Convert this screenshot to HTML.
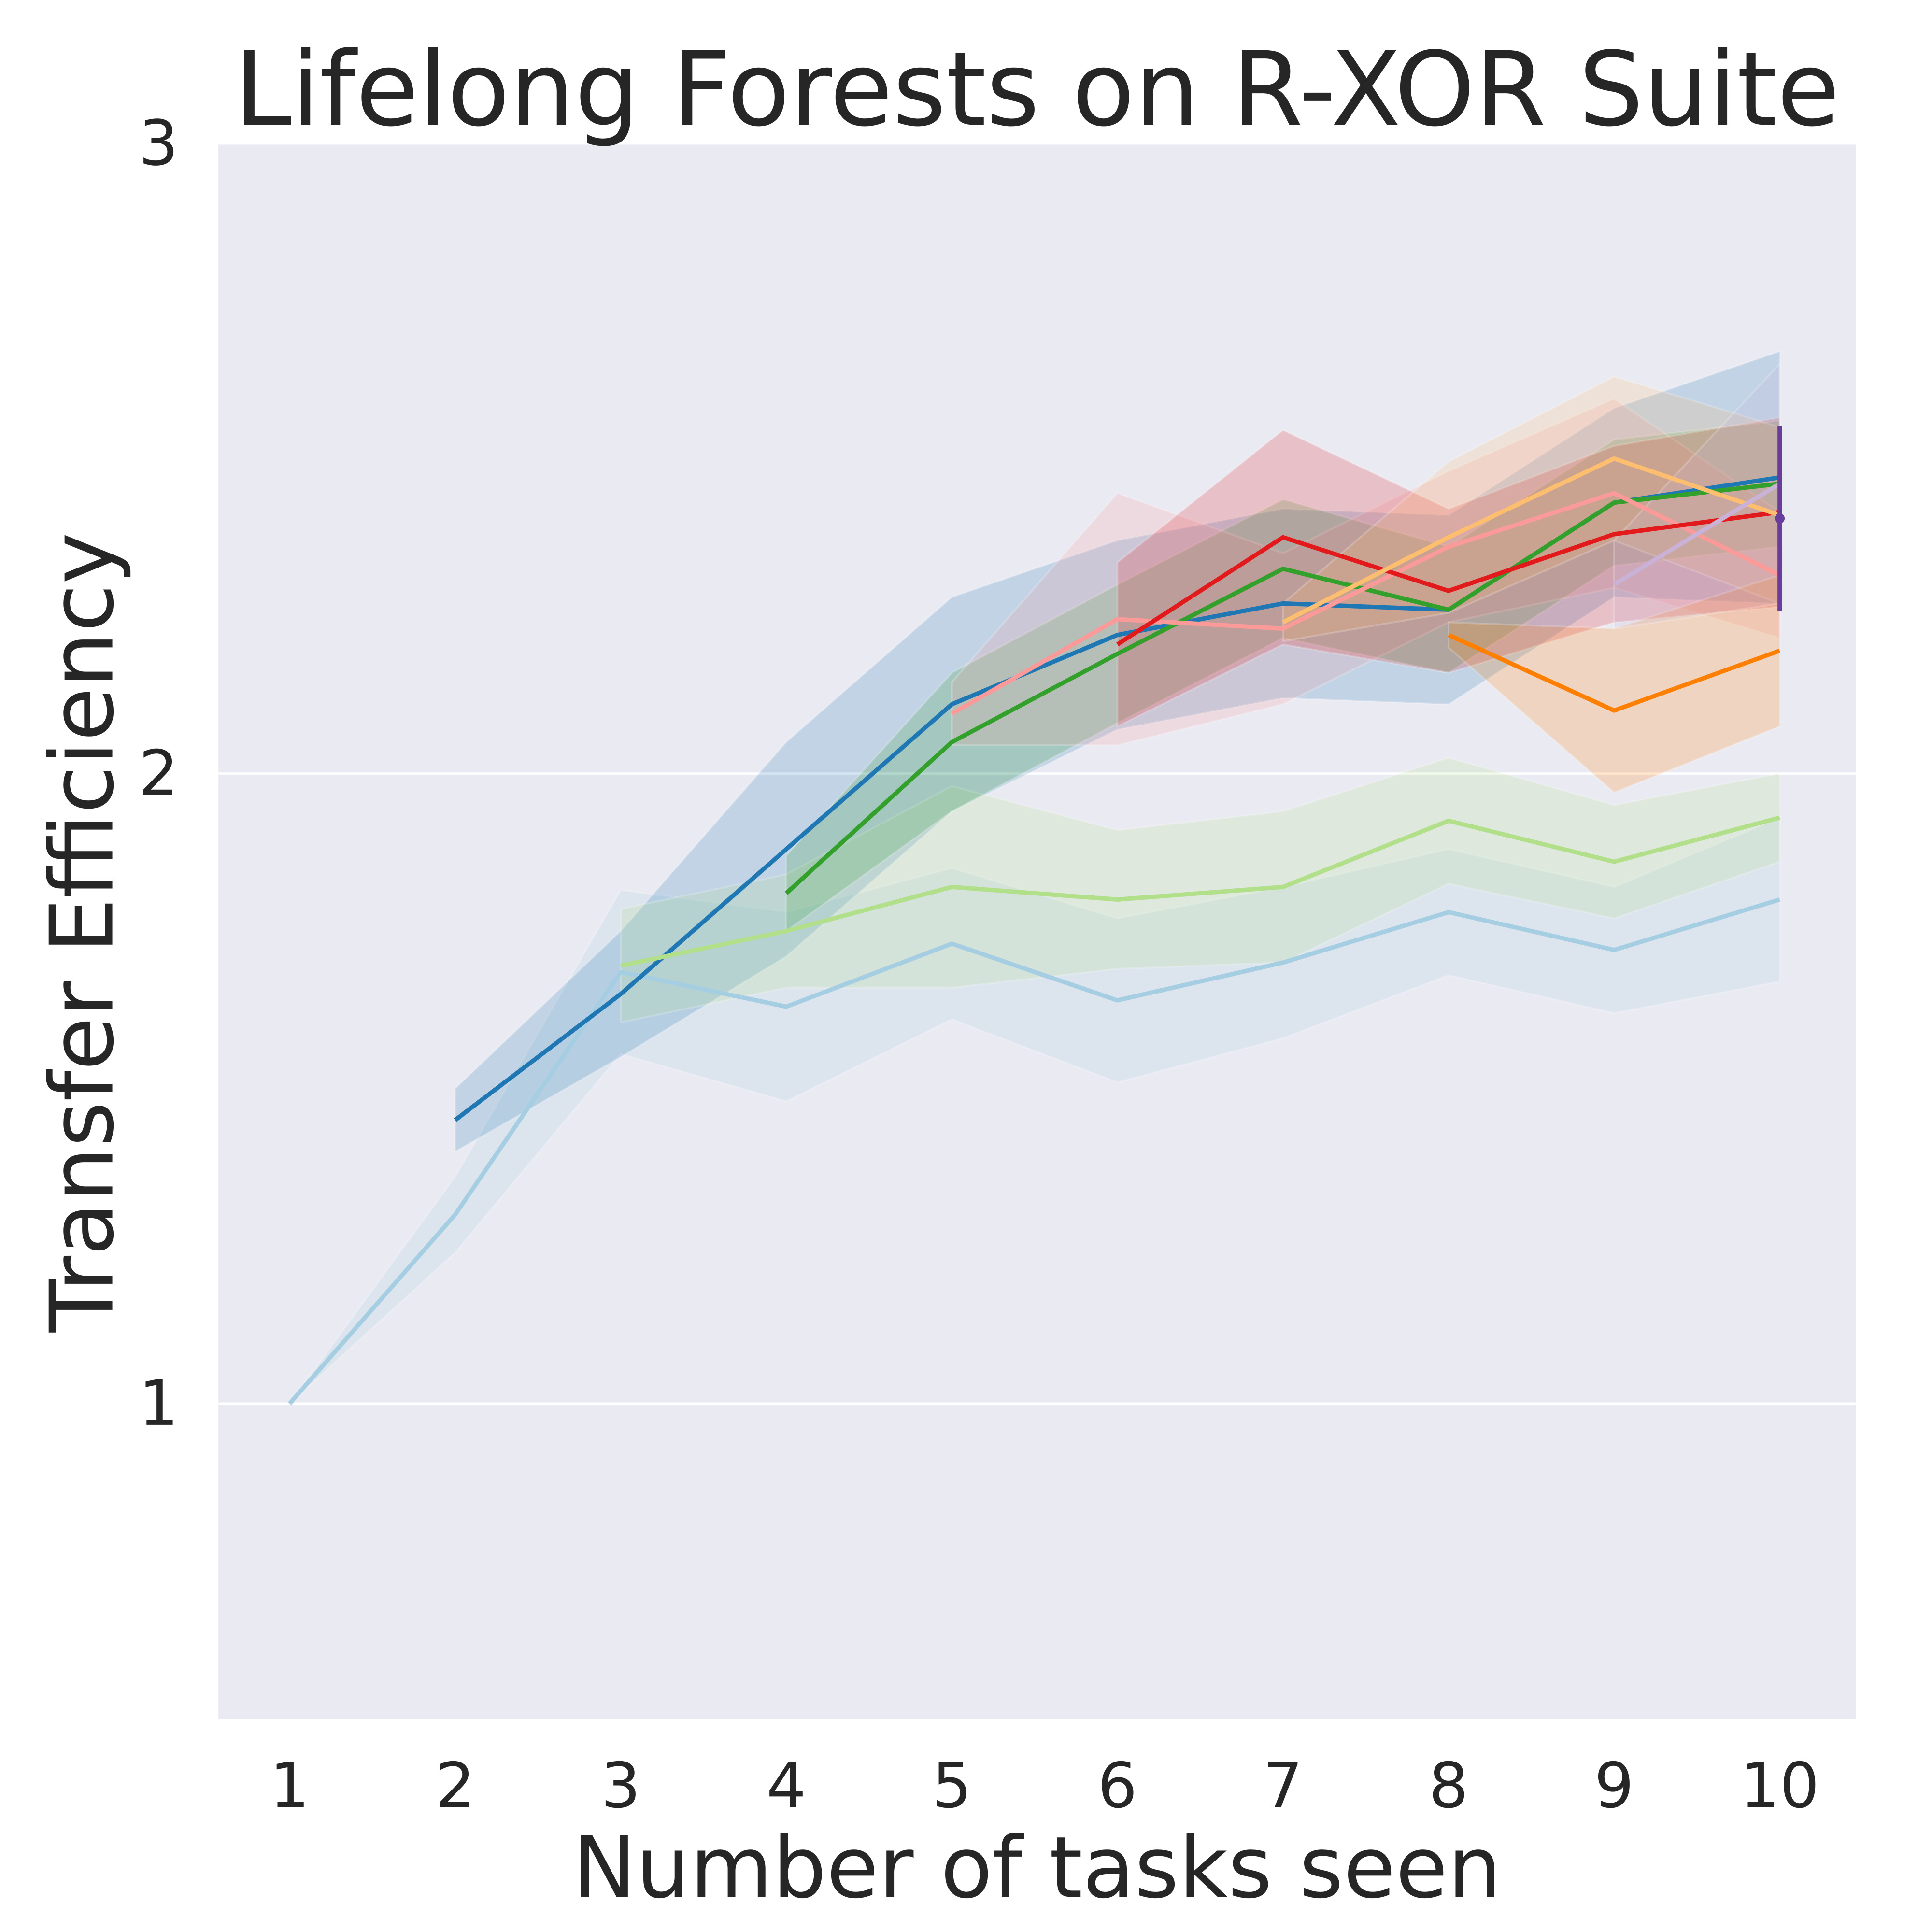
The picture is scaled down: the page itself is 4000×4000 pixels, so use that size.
<!DOCTYPE html>
<html><head><meta charset="utf-8"><style>
html,body{margin:0;padding:0;background:#fff;}
svg{display:block;font-family:"DejaVu Sans","Liberation Sans",sans-serif;}
</style></head><body>
<svg id="chart" width="4000" height="4000" viewBox="0 0 1548 1548" xmlns="http://www.w3.org/2000/svg">
<rect x="0" y="0" width="1548" height="1548" fill="#ffffff"/>
<rect x="175" y="115" width="1312" height="1262" fill="#eaeaf2"/>
<g id="grid"></g>
<g id="bands"></g>
<g id="lines"></g>
<g id="ticks" fill="#262626" font-size="50"></g>
<text x="831" y="100" text-anchor="middle" font-size="82" fill="#262626">Lifelong Forests on R-XOR Suite</text>
<text x="831" y="1520" text-anchor="middle" font-size="68" fill="#262626">Number of tasks seen</text>
<text transform="translate(90,747) rotate(-90)" text-anchor="middle" font-size="70" fill="#262626">Transfer Efficiency</text>
</svg>
<script>
const xTicks = [1,2,3,4,5,6,7,8,9,10];
const yTicks = [1,2,3];
const colors = ["#a6cee3","#1f78b4","#b2df8a","#33a02c","#fb9a99","#e31a1c","#fdbf6f","#ff7f00","#cab2d6","#6a3d9a"];
const task1 = [1.00,1.30,1.685,1.63,1.73,1.64,1.70,1.78,1.72,1.80];
const task1Err = [0.0,0.06,0.13,0.15,0.12,0.13,0.12,0.10,0.10,0.13];
const task2 = [1.45,1.65,1.88,2.11,2.22,2.27,2.26,2.43,2.47];
const task2Err = [0.05,0.10,0.17,0.17,0.15,0.15,0.15,0.15,0.20];
const task3 = [1.695,1.75,1.82,1.80,1.82,1.925,1.86,1.93];
const task3Err = [0.09,0.09,0.16,0.11,0.12,0.10,0.09,0.07];
const task4 = [1.81,2.05,2.19,2.325,2.26,2.43,2.46];
const task4Err = [0.06,0.11,0.11,0.11,0.10,0.10,0.10];
const task5 = [2.095,2.245,2.23,2.36,2.445,2.315];
const task5Err = [0.05,0.20,0.12,0.12,0.15,0.10];
const task6 = [2.205,2.375,2.29,2.38,2.415];
const task6Err = [0.13,0.17,0.13,0.14,0.15];
const task7 = [2.24,2.375,2.50,2.41];
const task7Err = [0.03,0.12,0.13,0.14];
const task8 = [2.22,2.10,2.195];
const task8Err = [0.02,0.13,0.12];
const task9 = [2.30,2.46];
const task9Err = [0.07,0.19];
const task10 = [2.405];
const task10Err = [0.147];
const series = [task1,task2,task3,task4,task5,task6,task7,task8,task9,task10];
const errs = [task1Err,task2Err,task3Err,task4Err,task5Err,task6Err,task7Err,task8Err,task9Err,task10Err];

const NS="http://www.w3.org/2000/svg";
const X0=175,X1=1487,Y0=115,Y1=1377,XMIN=0.57,XMAX=10.46,YMIN=0.5,YMAX=3.0;
function xs(v){return X0+(v-XMIN)/(XMAX-XMIN)*(X1-X0);}
function ys(v){return Y1-(v-YMIN)/(YMAX-YMIN)*(Y1-Y0);}
function mk(tag,attrs,parent){const e=document.createElementNS(NS,tag);for(const k in attrs)e.setAttribute(k,attrs[k]);parent.appendChild(e);return e;}
const grid=document.getElementById('grid'),bands=document.getElementById('bands'),lines=document.getElementById('lines'),ticks=document.getElementById('ticks');
yTicks.forEach(v=>{
  const l=mk('line',{x1:X0,x2:X1,y1:ys(v),y2:ys(v),stroke:'#ffffff','stroke-width':1.8},grid);
  
  
  const t=mk('text',{x:143,y:ys(v)+17,'text-anchor':'end'},ticks);t.textContent=v;
  
  
});
xTicks.forEach(v=>{
  const t=mk('text',{x:xs(v),y:1448,'text-anchor':'middle'},ticks);t.textContent=v;
  
  
});
series.forEach((s,i)=>{
  const start=i+1, e=errs[i];
  if(s.length>1){
    let up=[],lo=[];
    s.forEach((v,j)=>{up.push(xs(start+j)+','+ys(v+e[j]));lo.unshift(xs(start+j)+','+ys(v-e[j]));});
    const p=mk('polygon',{points:up.concat(lo).join(' '),fill:colors[i],'fill-opacity':0.2,stroke:'#ffffff','stroke-opacity':0.2,'stroke-width':1.5},bands);
    
    
    const pl=mk('polyline',{points:s.map((v,j)=>xs(start+j)+','+ys(v)).join(' '),fill:'none',stroke:colors[i],'stroke-width':3.5,'stroke-linejoin':'round'},lines);
    
    
  } else {
    const x=xs(start);
    const l=mk('line',{x1:x,x2:x,y1:ys(s[0]+e[0]),y2:ys(s[0]-e[0]),stroke:colors[i],'stroke-width':3.5},lines);
    
    
    const c=mk('circle',{cx:x,cy:ys(s[0]),r:4,fill:colors[i]},lines);
    
    
  }
});
</script>
</body></html>
